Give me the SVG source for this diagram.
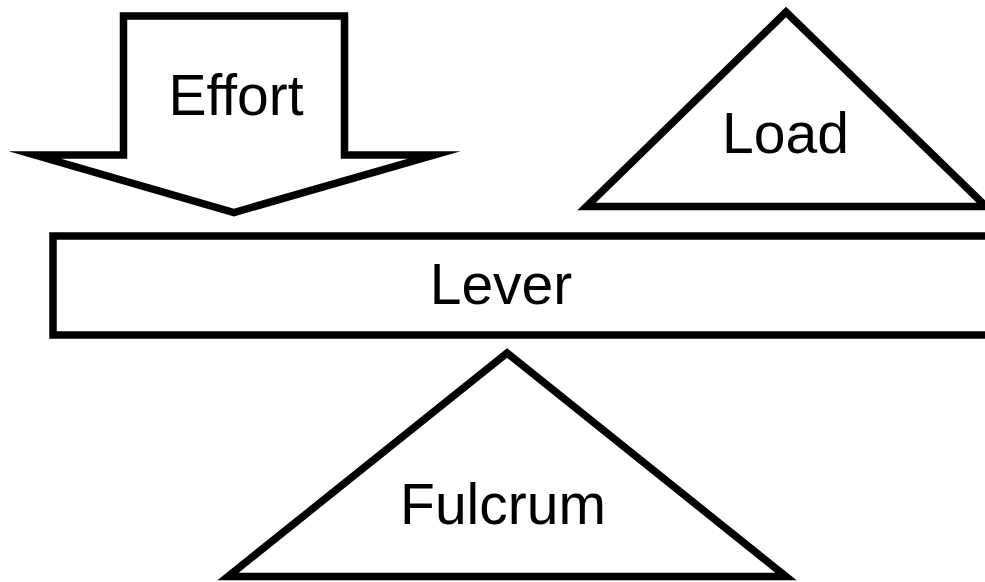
<svg xmlns="http://www.w3.org/2000/svg" width="985" height="582" viewBox="0 0 985 582">
<style>
.shape{fill:#fff;stroke:#000;stroke-width:7.5;stroke-linejoin:miter;stroke-miterlimit:10}
.lbl{font-family:"Liberation Sans",Arial,sans-serif;font-size:57px;fill:#000;text-anchor:middle}
</style>
<rect width="985" height="582" fill="#fff"/>
<g id="effort">
<polygon class="shape" points="123.5,155 123.5,16 344.5,16 344.5,155 434,155 234,212.5 35,155"/>
<text class="lbl" x="236" y="115">Effort</text>
</g>
<g id="load">
<polygon class="shape" points="786,12 986,206.5 586.5,206.5"/>
<text class="lbl" x="785.5" y="153">Load</text>
</g>
<g id="lever">
<rect class="shape" x="53" y="236" width="1000" height="99"/>
<text class="lbl" x="501" y="304">Lever</text>
</g>
<g id="fulcrum">
<polygon class="shape" points="507,353 786,576.5 228,576.5"/>
<text class="lbl" x="503" y="524">Fulcrum</text>
</g>
<g id="connectors"/>
</svg>
